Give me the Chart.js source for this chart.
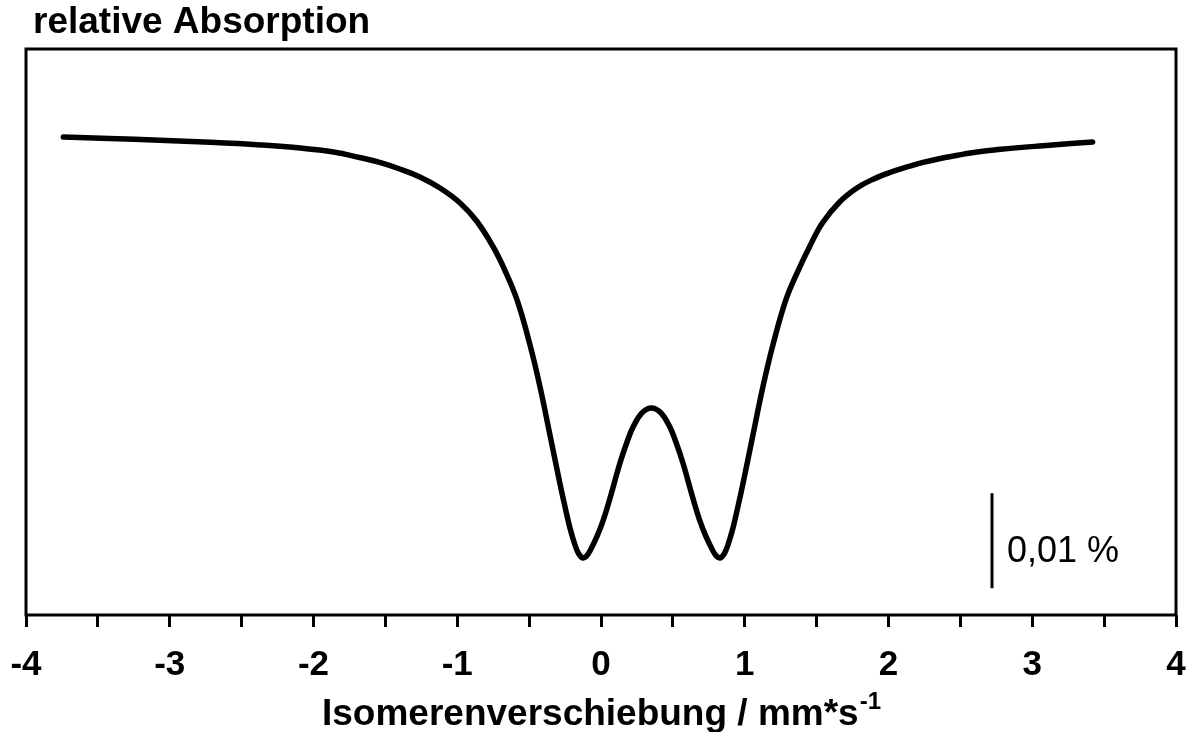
<!DOCTYPE html>
<html lang="de">
<head>
<meta charset="utf-8">
<title>Mössbauer-Spektrum</title>
<script src="https://cdn.jsdelivr.net/npm/chart.js@4.4.1/dist/chart.umd.min.js"></script>
<style>
    html, body { margin: 0; padding: 0; background: #fff; }
    #wrap { width: 1195px; height: 732px; }
</style>
</head>
<body>
<div id="wrap"><canvas id="spectrumChart" width="1195" height="732"></canvas></div>
<script>
// Isomerenverschiebung in mm/s
const shift = [-3.74, -3.42, -3.07, -2.72, -2.37, -2.09, -1.86, -1.68, -1.54, -1.40,
    -1.26, -1.12, -0.98, -0.86, -0.75, -0.67, -0.584, -0.494, -0.424, -0.355,
    -0.285, -0.250, -0.216, -0.181, -0.160, -0.139, -0.125, -0.104, -0.077, -0.028,
    0.014, 0.063, 0.132, 0.181, 0.223, 0.285, 0.351, 0.417, 0.479, 0.521,
    0.570, 0.639, 0.688, 0.730, 0.779, 0.806, 0.827, 0.841, 0.862, 0.883,
    0.918, 0.952, 0.987, 1.057, 1.126, 1.196, 1.286, 1.37, 1.45, 1.54,
    1.66, 1.78, 1.89, 2.01, 2.13, 2.24, 2.36, 2.48, 2.57, 2.78,
    3.12, 3.42];

// relative Absorption in % (0 = linkes Ende)
const absorption = [0.00000, -0.00016, -0.00035, -0.00056, -0.00084, -0.00116, -0.00158, -0.00216, -0.00268, -0.00337,
    -0.00421, -0.00537, -0.00695, -0.00895, -0.01158, -0.01400, -0.01716, -0.02189, -0.02632, -0.03137,
    -0.03653, -0.03895, -0.04116, -0.04295, -0.04374, -0.04421, -0.04432, -0.04416, -0.04358, -0.04205,
    -0.04042, -0.03800, -0.03432, -0.03211, -0.03053, -0.02905, -0.02853, -0.02905, -0.03053, -0.03211,
    -0.03432, -0.03800, -0.04042, -0.04205, -0.04358, -0.04416, -0.04432, -0.04421, -0.04374, -0.04295,
    -0.04116, -0.03895, -0.03653, -0.03137, -0.02632, -0.02189, -0.01716, -0.01411, -0.01158, -0.00905,
    -0.00684, -0.00537, -0.00447, -0.00374, -0.00316, -0.00268, -0.00226, -0.00193, -0.00168, -0.00129,
    -0.00087, -0.00053];

const tickValues = [-4, -3, -2, -1, 0, 1, 2, 3, 4];

// Maßstabsbalken
const scaleBarX = 2.72;
const scaleBarFrom = -0.0475;
const scaleBarTo = -0.0375;
const scaleBarLabel = "0,01 %";

const yTitle = "relative Absorption";
const xTitle = "Isomerenverschiebung / mm*s";
const xTitleSup = "-1";

const FONT = "'Liberation Sans', Arial, sans-serif";

// frame, scale bar and titles
const decorPlugin = {
    id: "decor",
    afterDraw(chart) {
        const { ctx, chartArea, scales } = chart;
        ctx.save();

        // frame
        ctx.strokeStyle = "#000";
        ctx.lineWidth = 3;
        ctx.strokeRect(chartArea.left, chartArea.top, chartArea.right - chartArea.left, chartArea.bottom - chartArea.top);

        // scale bar
        const bx = scales.x.getPixelForValue(scaleBarX);
        ctx.beginPath();
        ctx.moveTo(bx, scales.y.getPixelForValue(scaleBarFrom));
        ctx.lineTo(bx, scales.y.getPixelForValue(scaleBarTo));
        ctx.lineWidth = 3;
        ctx.stroke();

        ctx.fillStyle = "#000";
        ctx.textBaseline = "alphabetic";
        ctx.textAlign = "left";
        ctx.font = "36px " + FONT;
        ctx.fillText(scaleBarLabel, bx + 15, 562);

        // y title
        ctx.font = "bold 37px " + FONT;
        ctx.fillText(yTitle, 33, 33);

        // x title with superscript
        const mainW = ctx.measureText(xTitle).width;
        ctx.font = "bold 24px " + FONT;
        const supW = ctx.measureText(xTitleSup).width;
        const cx = (chartArea.left + chartArea.right) / 2;
        const startX = cx - (mainW + supW) / 2;
        ctx.font = "bold 37px " + FONT;
        ctx.fillText(xTitle, startX, 725);
        ctx.font = "bold 24px " + FONT;
        ctx.fillText(xTitleSup, startX + mainW + 1, 709);

        ctx.restore();
    }
};

function createSpectrumChart() {
    const ctx = document.getElementById("spectrumChart");

    new Chart(ctx, {
        type: "line",
        data: {
            datasets: [{
                data: shift.map((x, i) => ({ x: x, y: absorption[i] })),
                borderColor: "#000",
                borderWidth: 5.5,
                borderCapStyle: "round",
                borderJoinStyle: "round",
                pointRadius: 0,
                fill: false,
                tension: 0.4
            }]
        },
        options: {
            responsive: false,
            animation: false,
            devicePixelRatio: 1,
            layout: { padding: { left: 26, right: 19, top: 49, bottom: 0 } },
            plugins: {
                legend: { display: false },
                tooltip: { enabled: false },
                title: { display: false }
            },
            scales: {
                x: {
                    type: "linear",
                    min: -4,
                    max: 4,
                    afterFit: (axis) => {
                        axis.height = 117;
                        axis.paddingLeft = 0;
                        axis.paddingRight = 0;
                    },
                    border: { display: false },
                    grid: {
                        drawOnChartArea: false,
                        drawTicks: true,
                        tickLength: 12,
                        tickWidth: 3,
                        tickColor: "#000"
                    },
                    ticks: {
                        stepSize: 0.5,
                        autoSkip: false,
                        maxRotation: 0,
                        padding: 17,
                        color: "#000",
                        font: { family: FONT, size: 35, weight: "bold" },
                        callback: (v) => tickValues.includes(v) ? String(v) : ""
                    }
                },
                y: {
                    display: false,
                    min: -0.05032,
                    max: 0.00926
                }
            }
        },
        plugins: [decorPlugin]
    });
}

createSpectrumChart();
</script>
</body>
</html>
